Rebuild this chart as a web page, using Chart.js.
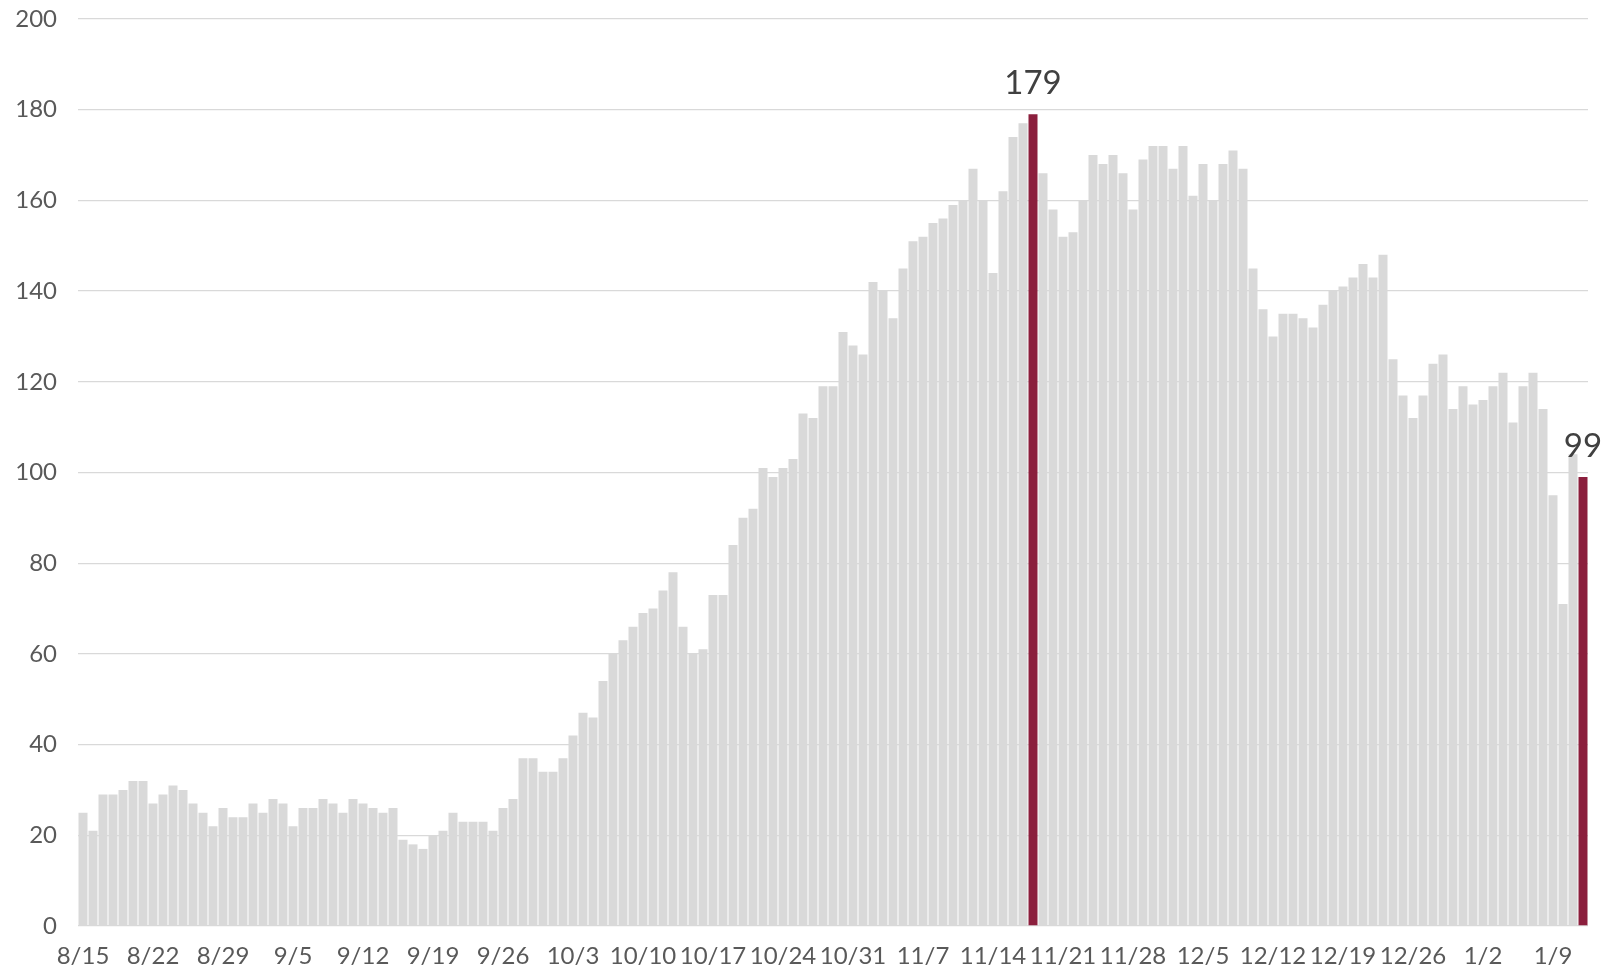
<!DOCTYPE html>
<html>
<head>
<meta charset="utf-8">
<script src="https://cdn.jsdelivr.net/npm/chart.js@4.4.1/dist/chart.umd.min.js"></script>
<style>
  html, body { margin: 0; padding: 0; background: #ffffff; }
  #wrap { width: 1619px; height: 970px; }
</style>
</head>
<body>
<div id="wrap"><canvas id="barChart" width="1619" height="970"></canvas></div>
<script>
// daily values, 8/15 through 1/12
const days = [
  "8/15","8/16","8/17","8/18","8/19","8/20","8/21","8/22","8/23","8/24","8/25","8/26","8/27","8/28","8/29","8/30","8/31",
  "9/1","9/2","9/3","9/4","9/5","9/6","9/7","9/8","9/9","9/10","9/11","9/12","9/13","9/14","9/15","9/16","9/17","9/18","9/19","9/20",
  "9/21","9/22","9/23","9/24","9/25","9/26","9/27","9/28","9/29","9/30",
  "10/1","10/2","10/3","10/4","10/5","10/6","10/7","10/8","10/9","10/10","10/11","10/12","10/13","10/14","10/15","10/16","10/17","10/18",
  "10/19","10/20","10/21","10/22","10/23","10/24","10/25","10/26","10/27","10/28","10/29","10/30","10/31",
  "11/1","11/2","11/3","11/4","11/5","11/6","11/7","11/8","11/9","11/10","11/11","11/12","11/13","11/14","11/15","11/16","11/17","11/18",
  "11/19","11/20","11/21","11/22","11/23","11/24","11/25","11/26","11/27","11/28","11/29","11/30",
  "12/1","12/2","12/3","12/4","12/5","12/6","12/7","12/8","12/9","12/10","12/11","12/12","12/13","12/14","12/15","12/16","12/17","12/18",
  "12/19","12/20","12/21","12/22","12/23","12/24","12/25","12/26","12/27","12/28","12/29","12/30","12/31",
  "1/1","1/2","1/3","1/4","1/5","1/6","1/7","1/8","1/9","1/10","1/11","1/12"
];

const counts = [
  25, 21, 29, 29, 30, 32, 32, 27, 29, 31, 30, 27, 25, 22, 26, 24, 24,
  27, 25, 28, 27, 22, 26, 26, 28, 27, 25, 28, 27, 26, 25, 26, 19, 18, 17, 20,
  21, 25, 23, 23, 23, 21, 26, 28, 37, 37,
  34, 34, 37, 42, 47, 46, 54, 60, 63, 66, 69, 70, 74, 78, 66, 60,
  61, 73, 73, 84, 90, 92, 101, 99, 101, 103, 113, 112, 119, 119, 131,
  128, 126, 142, 140, 134, 145, 151, 152, 155, 156, 159, 160, 167, 160, 144, 162, 174, 177, 179,
  166, 158, 152, 153, 160, 170, 168, 170, 166, 158, 169, 172,
  172, 167, 172, 161, 168, 160, 168, 171, 167, 145, 136, 130, 135, 135, 134, 132, 137, 140,
  141, 143, 146, 143, 148, 125, 117, 112, 117, 124, 126, 114, 119,
  115, 116, 119, 122, 111, 119, 122, 114, 95, 71, 104, 99
];

const tickLabels = ["8/15","8/22","8/29","9/5","9/12","9/19","9/26","10/3","10/10","10/17","10/24",
  "10/31","11/7","11/14","11/21","11/28","12/5","12/12","12/19","12/26","1/2","1/9"];

const highlighted = ["11/18", "1/12"];

const greyBar = "#d9d9d9";
const redBar = "#8b1f3d";
const textGrey = "#595959";
const fontFamily = "Lato, 'Open Sans', sans-serif";

// writes the value above each highlighted bar
const valueLabels = {
  id: "valueLabels",
  afterDatasetsDraw(chart) {
    const meta = chart.getDatasetMeta(0);
    const c = chart.ctx;
    c.save();
    c.font = "33px " + fontFamily;
    c.fillStyle = "#404040";
    c.textAlign = "center";
    c.textBaseline = "bottom";
    highlighted.forEach(d => {
      const i = days.indexOf(d);
      const bar = meta.data[i];
      c.fillText(String(counts[i]), bar.x, bar.y - 14);
    });
    c.restore();
  }
};

const ctx = document.getElementById("barChart").getContext("2d");

new Chart(ctx, {
  type: "bar",
  data: {
    labels: days,
    datasets: [{
      data: counts,
      backgroundColor: days.map(d => highlighted.includes(d) ? redBar : greyBar),
      borderWidth: 0,
      barPercentage: 0.9,
      categoryPercentage: 1.0
    }]
  },
  options: {
    responsive: false,
    animation: false,
    devicePixelRatio: 1,
    layout: { padding: { top: 19, right: 31, left: 0, bottom: 0 } },
    plugins: {
      legend: { display: false },
      tooltip: { enabled: false }
    },
    scales: {
      x: {
        grid: { display: false },
        border: { display: false },
        afterFit: s => { s.height = 44; },
        ticks: {
          autoSkip: false,
          maxRotation: 0,
          minRotation: 0,
          padding: 8,
          color: textGrey,
          font: { family: fontFamily, size: 24 },
          callback: function (val) {
            const lbl = this.getLabelForValue(val);
            return tickLabels.includes(lbl) ? lbl : null;
          }
        }
      },
      y: {
        min: 0,
        max: 200,
        afterFit: s => { s.width = 78; },
        // invisible tick marks keep the labels clear of the plot without padding the top
        grid: { color: "#d9d9d9", lineWidth: 1.3, drawTicks: true, tickLength: 21, tickColor: "rgba(0,0,0,0)" },
        border: { display: false },
        ticks: {
          stepSize: 20,
          padding: 0,
          color: textGrey,
          font: { family: fontFamily, size: 24 }
        }
      }
    }
  },
  plugins: [valueLabels]
});
</script>
</body>
</html>
